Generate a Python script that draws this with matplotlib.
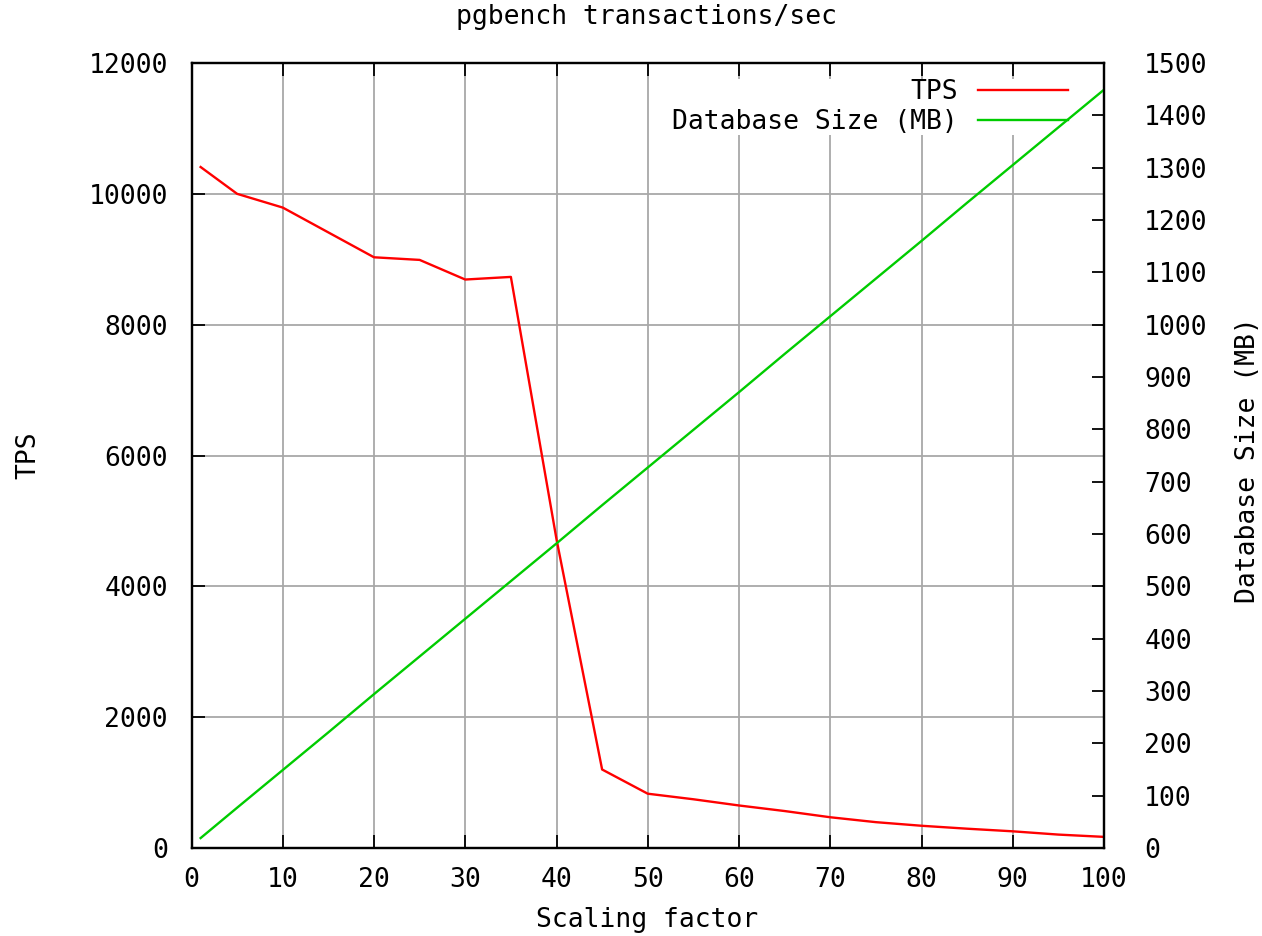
import matplotlib
matplotlib.use("Agg")
import matplotlib.pyplot as plt

# ---- data ----
scale = [1, 5, 10, 15, 20, 25, 30, 35, 40, 45, 50, 55, 60, 65, 70, 75, 80, 85, 90, 95, 100]
tps = [10410, 10000, 9790, 9410, 9030, 8990, 8690, 8730, 4720, 1200, 830, 745, 650,
       565, 470, 395, 340, 295, 255, 205, 170]
db_size_mb = [19, 77, 149, 221, 294, 366, 438, 510, 582, 655, 727, 799, 871, 944,
              1016, 1088, 1160, 1233, 1305, 1377, 1449]

x_ticks = list(range(0, 101, 10))
y_ticks = list(range(0, 12001, 2000))
y2_ticks = list(range(0, 1501, 100))

title = "pgbench transactions/sec"
x_label = "Scaling factor"
y_label = "TPS"
y2_label = "Database Size (MB)"
series_labels = ["TPS", "Database Size (MB)"]

plt.rcParams['font.family'] = ['DejaVu Sans Mono', 'DejaVu Sans']
FS = 19

W, H = 1262, 936
fig = plt.figure(figsize=(W / 100, H / 100), dpi=100)
L, R, T, B = 191.5, 1104, 63, 848
ax = fig.add_axes([L / W, 1 - B / H, (R - L) / W, (B - T) / H])
ax2 = ax.twinx()

ax.set_axisbelow(True)
ax.grid(True, color='#a8a8a8', linewidth=1.3)

l1, = ax.plot(scale, tps, color='#ff0000', linewidth=1.7, zorder=2)
l2, = ax2.plot(scale, db_size_mb, color='#00cc00', linewidth=1.7, zorder=2)

ax.set_xlim(0, 100)
ax.set_ylim(0, 12000)
ax2.set_ylim(0, 1500)
ax.set_xticks(x_ticks)
ax.set_yticks(y_ticks)
ax2.set_yticks(y2_ticks)

ax.tick_params(axis='x', direction='in', length=9.5, width=1.3, top=True,
               labelsize=FS, pad=14, colors='black')
ax.tick_params(axis='y', direction='in', length=9.5, width=1.3, right=False,
               labelsize=FS, pad=17)
ax2.tick_params(axis='y', direction='in', length=9, width=1.3,
                labelsize=FS, pad=29)
for t in ax2.get_yticklabels():
    t.set_ha('left')

for a in (ax, ax2):
    for s in a.spines.values():
        s.set_linewidth(1.6)
        s.set_color('black')

leg = ax.legend([l1, l2], series_labels, loc='upper right',
                bbox_to_anchor=((1068 - L) / (R - L), (B - 79) / (B - T)),
                borderaxespad=0, borderpad=0, markerfirst=False,
                handlelength=3.4, handletextpad=0.76, labelspacing=0.16,
                fontsize=FS, frameon=True, fancybox=False, framealpha=1,
                facecolor='white', edgecolor='none')
leg.set_zorder(1.5)

fig.text(646 / W, 1 - 17 / H, title, ha='center', va='center', fontsize=FS)
fig.text(647 / W, 1 - 920 / H, x_label, ha='center', va='center', fontsize=FS)
fig.text(28 / W, 1 - 455 / H, y_label, ha='center', va='center', rotation=90, fontsize=FS)
fig.text(1248 / W, 1 - 460 / H, y2_label, ha='center', va='center', rotation=90, fontsize=FS)

fig.savefig("out.png", dpi=100)
